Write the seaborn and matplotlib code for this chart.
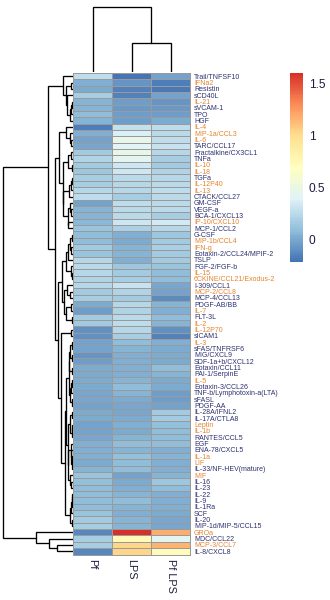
import numpy as np
import pandas as pd
import matplotlib
matplotlib.use("Agg")
import matplotlib.pyplot as plt
from matplotlib.colors import LinearSegmentedColormap
import seaborn as sns

# ---- data -------------------------------------------------------------
cytokines = [
    "Trail/TNFSF10", "IFNa2", "Resistin", "sCD40L", "IL-21", "sVCAM-1", "TPO", "HGF",
    "IL-4", "MIP-1a/CCL3", "IL-6", "TARC/CCL17", "Fractalkine/CX3CL1", "TNFa", "IL-10",
    "IL-18", "TGFa", "IL-12P40", "IL-13", "CTACK/CCL27", "GM-CSF", "VEGF-a",
    "BCA-1/CXCL13", "IP-10/CXCL10", "MCP-1/CCL2", "G-CSF", "MIP-1b/CCL4", "IFN-g",
    "Eotaxin-2/CCL24/MPIF-2", "TSLP", "FGF-2/FGF-b", "IL-15", "6CKINE/CCL21/Exodus-2",
    "I-309/CCL1", "MCP-2/CCL8", "MCP-4/CCL13", "PDGF-AB/BB", "IL-7", "FLT-3L", "IL-2",
    "IL-12P70", "sICAM1", "IL-3", "sFAS/TNFRSF6", "MIG/CXCL9", "SDF-1a+b/CXCL12",
    "Eotaxin/CCL11", "PAI-1/SerpinE", "IL-5", "Eotaxin-3/CCL26",
    "TNF-b/Lymphotoxin-a(LTA)", "sFASL", "PDGF-AA", "IL-28A/IFNL2", "IL-17A/CTLA8",
    "Leptin", "IL-1b", "RANTES/CCL5", "EGF", "ENA-78/CXCL5", "IL-1a", "LIF",
    "IL-33/NF-HEV(mature)", "MIF", "IL-16", "IL-23", "IL-22", "IL-9", "IL-1Ra", "SCF",
    "IL-20", "MIP-1d/MIP-5/CCL15", "GROa", "MDC/CCL22", "MCP-3/CCL7", "IL-8/CXCL8",
]

pf = [
    0.26, 0.02, 0.01, 0.17, 0.04, 0.04, 0.08, 0.05,
    -0.18, 0.03, -0.03, -0.01, 0.16, 0.21, 0.16,
    0.14, 0.17, 0.18, 0.22, 0.27, -0.02, 0.05,
    0.05, 0.07, 0.11, 0.075, 0.08, 0.15,
    0.12, 0.23, 0.25, 0.22, 0.20,
    0.23, 0.16, 0.17, 0.01, -0.05, 0.15, 0.16,
    -0.10, -0.10, -0.03, -0.03, -0.08, -0.05,
    0.00, 0.01, 0.01, 0.00,
    -0.01, -0.01, -0.02, 0.01, 0.00,
    -0.03, -0.03, -0.01, 0.03, 0.03, 0.03, 0.01,
    0.05, 0.11, 0.09, 0.08, 0.08, 0.08, 0.08, 0.11,
    0.15, 0.17, -0.13, 0.17, 0.17, -0.13,
]
lps = [
    -0.22, -0.08, -0.15, -0.15, -0.04, -0.07, -0.05, -0.05,
    0.28, 0.38, 0.46, 0.41, 0.47, 0.43, 0.31,
    0.32, 0.24, 0.23, 0.22, 0.17, 0.27, 0.25,
    0.25, 0.32, 0.19, 0.03, 0.01, 0.04,
    0.05, 0.03, 0.13, 0.16, 0.17,
    0.29, 0.20, 0.15, 0.22, 0.20, 0.24, 0.26,
    0.22, 0.18, 0.08, 0.05, 0.02, 0.02,
    0.03, 0.03, 0.05, 0.08,
    0.05, 0.01, -0.01, -0.01, 0.01,
    0.03, 0.01, 0.05, 0.08, 0.05, 0.09, 0.08,
    0.08, -0.03, 0.01, 0.02, 0.05, 0.08, 0.05, 0.02,
    0.05, 0.05, 1.60, 0.73, 1.02, 1.03,
]
pf_lps = [
    -0.03, -0.18, -0.20, -0.03, -0.08, -0.06, -0.05, 0.00,
    0.26, 0.25, 0.27, 0.29, 0.22, 0.18, 0.16,
    0.20, 0.22, 0.25, 0.27, 0.25, 0.25, 0.24,
    0.17, 0.33, 0.22, 0.13, 0.16, 0.19,
    0.15, 0.16, 0.11, 0.075, 0.075,
    -0.01, -0.03, -0.12, 0.05, 0.02, 0.08, 0.04,
    -0.10, -0.15, 0.03, 0.01, 0.00, 0.01,
    0.08, 0.05, 0.01, 0.00,
    -0.05, -0.05, -0.03, 0.16, 0.15,
    0.09, 0.08, 0.08, 0.08, 0.02, 0.05, 0.03,
    0.03, 0.05, 0.13, 0.08, 0.03, 0.03, 0.02, 0.01,
    -0.01, -0.01, 1.18, 0.43, 1.15, 0.72,
]

conditions = ["Pf", "LPS", "Pf LPS"]
colorbar_ticks = [0, 0.5, 1, 1.5]
colorbar_ticklabels = ["0", "0.5", "1", "1.5"]

# labels drawn in the accent colour
accent_labels = {
    "IFNa2", "IL-21", "IL-4", "MIP-1a/CCL3", "IL-6", "IL-10", "IL-18", "IL-12P40",
    "IL-13", "IP-10/CXCL10", "MIP-1b/CCL4", "IFN-g", "IL-15", "6CKINE/CCL21/Exodus-2",
    "MCP-2/CCL8", "IL-7", "IL-2", "IL-12P70", "IL-3", "IL-5", "Leptin", "IL-1b",
    "IL-1a", "LIF", "MIF", "GROa", "MCP-3/CCL7",
}

df = pd.DataFrame({conditions[0]: pf, conditions[1]: lps, conditions[2]: pf_lps},
                  index=cytokines)


# ---- hierarchical clustering (complete linkage, euclidean) -------------
def ordered_linkage(X):
    """Agglomerate neighbouring clusters, keeping the given leaf order."""
    n = len(X)
    D = np.sqrt(((X[:, None, :] - X[None, :, :]) ** 2).sum(-1))
    clusters = [dict(members=[i], pos=i + 0.5, h=0.0) for i in range(n)]
    merges = []
    while len(clusters) > 1:
        best = None
        for k in range(len(clusters) - 1):
            a, b = clusters[k], clusters[k + 1]
            d = D[np.ix_(a["members"], b["members"])].max()
            if best is None or d < best[0]:
                best = (d, k)
        d, k = best
        a, b = clusters[k], clusters[k + 1]
        merges.append((a["pos"], a["h"], b["pos"], b["h"], d))
        clusters[k:k + 2] = [dict(members=a["members"] + b["members"],
                                  pos=(a["pos"] + b["pos"]) / 2, h=d)]
    return merges


row_tree = ordered_linkage(df.values)
col_tree = ordered_linkage(df.values.T)

# ---- style ------------------------------------------------------------
sns.set_theme(style="white")
plt.rcParams["font.family"] = ["Liberation Sans", "DejaVu Sans"]

NAVY = "#2b3170"
ORANGE = "#e5832c"

palette = ["#4575B4", "#91BFDB", "#E0F3F8", "#FFFFBF", "#FEE090", "#FC8D59", "#D73027"]
cmap = LinearSegmentedColormap.from_list("rdylbu_r", palette, N=100)

W, H = 330, 600
fig = plt.figure(figsize=(W / 100, H / 100), dpi=100)


def frac(x0, y0, x1, y1):
    return [x0 / W, 1 - y1 / H, (x1 - x0) / W, (y1 - y0) / H]


hm_l, hm_r, hm_t, hm_b = 73, 190, 73, 554.5
ax_hm = fig.add_axes(frac(hm_l, hm_t, hm_r, hm_b))
ax_row = fig.add_axes(frac(0, hm_t, hm_l, hm_b))
ax_col = fig.add_axes(frac(hm_l, 0, hm_r, hm_t - 1))
ax_cb = fig.add_axes(frac(290, 72.7, 303, 262))

sns.heatmap(df, ax=ax_hm, cmap=cmap, cbar_ax=ax_cb, linewidths=0.7,
            linecolor="#9a9a9a", xticklabels=True, yticklabels=True)
ax_hm.collections[0].set_clip_on(False)

# row labels on the right
ax_hm.yaxis.tick_right()
ax_hm.tick_params(axis="y", length=0, pad=2.8, labelsize=5.0, labelright=True,
                  labelleft=False)
for lab in ax_hm.get_yticklabels():
    lab.set_rotation(0)
    lab.set_color(ORANGE if lab.get_text() in accent_labels else NAVY)

# column labels below, reading downward
ax_hm.tick_params(axis="x", length=0, pad=3, labelsize=7.8)
for lab in ax_hm.get_xticklabels():
    lab.set_rotation(270)
    lab.set_ha("center")
    lab.set_va("top")
    lab.set_color("#1c1c40")
ax_hm.set_xlabel("")
ax_hm.set_ylabel("")

# colour bar
cbar = ax_hm.collections[0].colorbar
cbar.outline.set_visible(False)
cbar.set_ticks(colorbar_ticks)
cbar.set_ticklabels(colorbar_ticklabels)
cbar.ax.tick_params(length=0, labelsize=8.6, pad=4, colors="#1c1c40")

# dendrograms
lw = 0.95
n_rows = len(cytokines)
for pa, ha, pb, hb, h in row_tree:
    ax_row.plot([ha, h, h, hb], [pa, pa, pb, pb], color="black", lw=lw,
                solid_joinstyle="miter")
row_max = max(m[4] for m in row_tree)
ax_row.set_xlim(row_max * 1.047, 0)
ax_row.set_ylim(n_rows, 0)
ax_row.axis("off")

for pa, ha, pb, hb, h in col_tree:
    ax_col.plot([pa, pa, pb, pb], [ha, h, h, hb], color="black", lw=lw,
                solid_joinstyle="miter")
col_max = max(m[4] for m in col_tree)
ax_col.set_ylim(0, col_max * 1.11)
ax_col.set_xlim(0, len(conditions))
ax_col.axis("off")

fig.savefig("out.png", dpi=100)
